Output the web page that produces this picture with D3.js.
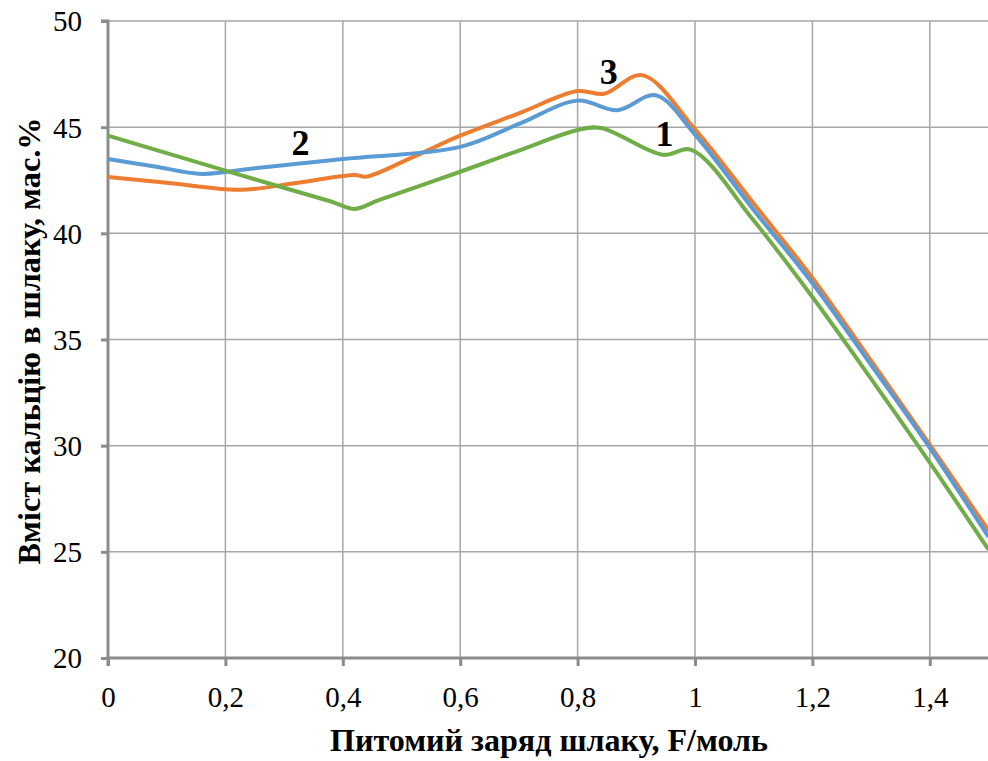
<!DOCTYPE html>
<html><head><meta charset="utf-8">
<script src="https://cdn.jsdelivr.net/npm/d3@7"></script>
<style>body{margin:0;background:#fff}svg{display:block}svg text{font-family:"Liberation Serif","Times New Roman",serif}</style>
</head><body>
<svg id="c" width="988" height="761"></svg>
<script>
const xTicks = [0, 0.2, 0.4, 0.6, 0.8, 1, 1.2, 1.4];
const yTicks = [20, 25, 30, 35, 40, 45, 50];
const seriesNames = ["3", "2", "1"];
const seriesColors = ["#ed7d31", "#5b9bd5", "#70ad47"];
const orangeX = [0, 0.1, 0.225, 0.32, 0.42, 0.44, 0.52, 0.6, 0.7, 0.8, 0.845, 0.91, 1.0, 1.1, 1.2, 1.3, 1.4, 1.5];
const orangeY = [42.65, 42.38, 42.05, 42.37, 42.75, 42.67, 43.6, 44.6, 45.65, 46.7, 46.57, 47.45, 44.9, 41.4, 37.9, 34.0, 30.05, 26.0];
const blueX = [0, 0.08, 0.16, 0.25, 0.4, 0.6, 0.7, 0.8, 0.868, 0.933, 1.0, 1.1, 1.2, 1.3, 1.4, 1.5];
const blueY = [43.5, 43.15, 42.8, 43.07, 43.5, 44.07, 45.15, 46.25, 45.8, 46.5, 44.65, 41.1, 37.65, 33.8, 29.9, 25.7];
const greenX = [0, 0.2, 0.38, 0.42, 0.46, 0.6, 0.7, 0.8, 0.84, 0.945, 0.994, 1.1, 1.2, 1.3, 1.4, 1.5];
const greenY = [44.6, 42.95, 41.5, 41.15, 41.55, 42.9, 43.9, 44.87, 44.96, 43.7, 43.93, 40.6, 37.0, 33.15, 29.2, 25.1];
const labels = [
  {text: "2", x: 0.328, y: 43.7},
  {text: "3", x: 0.853, y: 47.05},
  {text: "1", x: 0.948, y: 44.1}
];

const svg = d3.select("#c");
const x = d3.scaleLinear().domain([0, 1.5]).range([108, 988.5]);
const y = d3.scaleLinear().domain([20, 50]).range([658, 21]);
const font = '"Liberation Serif","Times New Roman",serif';

// gridlines
svg.append("g").selectAll("line").data(yTicks.slice(1)).join("line")
  .attr("x1", 108).attr("x2", 988).attr("y1", d => y(d)).attr("y2", d => y(d))
  .attr("stroke", "#a6a6a6").attr("stroke-width", 1.5);
svg.append("g").selectAll("line").data(xTicks.slice(1)).join("line")
  .attr("y1", 21).attr("y2", 658).attr("x1", d => x(d)).attr("x2", d => x(d))
  .attr("stroke", "#a6a6a6").attr("stroke-width", 1.5);

// axes
const yAxis = svg.append("g").attr("transform", "translate(108,0)")
  .call(d3.axisLeft(y).tickValues(yTicks).tickSize(7).tickPadding(19).tickFormat(d => d));
const xAxis = svg.append("g").attr("transform", "translate(0,658)")
  .call(d3.axisBottom(x).tickValues(xTicks).tickSize(8).tickPadding(20).tickFormat(d => String(d).replace(".", ",")));
[yAxis, xAxis].forEach(g => {
  g.attr("font-family", null).attr("font-size", null);
  g.select(".domain").attr("stroke", "#8c8c8c").attr("stroke-width", 3);
  g.selectAll(".tick line").attr("stroke", "#8c8c8c").attr("stroke-width", 3);
  g.selectAll("text").style("font-family", font).style("font-size", "29px").attr("fill", "#000");
});
yAxis.selectAll("text").attr("dy", "0.34em");
yAxis.select(".domain").attr("d", "M0,658V21H-7");
xAxis.select(".domain").attr("d", "M108,8V0H990");

// lines
svg.append("clipPath").attr("id", "pc").append("rect")
  .attr("x", 100).attr("y", 0).attr("width", 888).attr("height", 700);
const line = d3.line().x(d => x(d[0])).y(d => y(d[1])).curve(d3.curveCatmullRom.alpha(0.5));
const sets = [
  d3.zip(orangeX, orangeY),
  d3.zip(blueX, blueY),
  d3.zip(greenX, greenY)
];
svg.append("g").attr("clip-path", "url(#pc)").selectAll("path").data(sets).join("path")
  .attr("d", line).attr("fill", "none")
  .attr("stroke", (d, i) => seriesColors[i]).attr("stroke-width", 4)
  .attr("stroke-linejoin", "round");

// labels
svg.append("g").selectAll("text").data(labels).join("text")
  .attr("x", d => x(d.x)).attr("y", d => y(d.y)).attr("text-anchor", "middle")
  .style("font-family", font).style("font-weight", "bold").style("font-size", "36px")
  .text(d => d.text);

// titles
svg.append("text").attr("x", 549).attr("y", 751).attr("text-anchor", "middle")
  .attr("textLength", 438).attr("lengthAdjust", "spacingAndGlyphs")
  .style("font-family", font).style("font-weight", "bold").style("font-size", "31px")
  .text("Питомий заряд шлаку, F/моль");
svg.append("text").attr("transform", "translate(40,341) rotate(-90)").attr("text-anchor", "middle")
  .attr("textLength", 447).attr("lengthAdjust", "spacingAndGlyphs")
  .style("font-family", font).style("font-weight", "bold").style("font-size", "31px")
  .text("Вміст кальцію в шлаку, мас.%");
</script>
</body></html>
